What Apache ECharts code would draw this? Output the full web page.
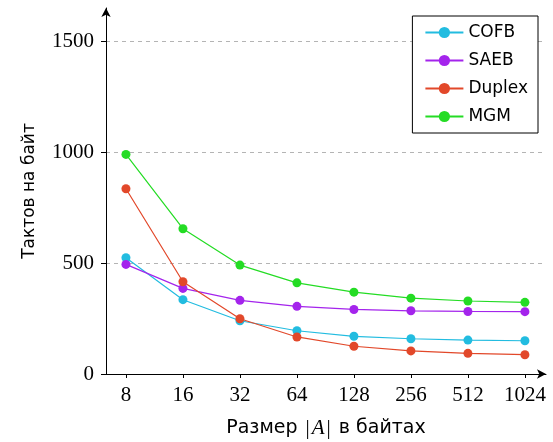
<!DOCTYPE html>
<html>
<head>
<meta charset="utf-8">
<script src="https://cdn.jsdelivr.net/npm/echarts@6/dist/echarts.min.js"></script>
<style>
  html, body { margin: 0; padding: 0; background: #fff; }
  #chart { width: 553px; height: 442px; }
</style>
</head>
<body>
<div id="chart"></div>
<script>
// Message sizes in bytes (plotted on a log2 scale)
const sizes = ['8', '16', '32', '64', '128', '256', '512', '1024'];

// Cycles per byte for each mode
const cofb   = [524, 335, 240, 195, 170, 159, 153, 150];
const saeb   = [494, 386, 332, 305, 291, 285, 282, 281];
const duplex = [835, 416, 249, 167, 125, 104, 93, 87];
const mgm    = [990, 655, 491, 411, 369, 342, 329, 323];

const yTicks = [0, 500, 1000, 1500];

const seriesDefs = [
  { name: 'COFB',   data: cofb,   color: '#22bce0' },
  { name: 'SAEB',   data: saeb,   color: '#a424ec' },
  { name: 'Duplex', data: duplex, color: '#e2482a' },
  { name: 'MGM',    data: mgm,    color: '#24dc24' }
];

const serif = '"Liberation Serif", "DejaVu Serif", serif';
const sans = '"DejaVu Sans", "Noto Sans", sans-serif';

const chart = echarts.init(document.getElementById('chart'));
chart.setOption({
  animation: false,
  backgroundColor: '#fff',
  grid: { left: 106, right: 7, top: 8, bottom: 68, outerBoundsMode: 'none' },
  legend: {
    orient: 'vertical',
    right: 15,
    top: 16,
    backgroundColor: '#fff',
    borderColor: '#000',
    borderWidth: 1,
    borderRadius: 0,
    padding: [8, 10, 8, 12],
    itemWidth: 38,
    itemHeight: 14,
    itemGap: 11,
    textStyle: { fontFamily: sans, fontSize: 17, color: '#000', width: 58, overflow: 'none' },
    data: seriesDefs.map(s => s.name)
  },
  xAxis: {
    type: 'value',
    min: -0.35,
    max: 7.37,
    name: '{s|Размер }{m||}{i|A}{m||}{s| в байтах}',
    nameLocation: 'middle',
    nameGap: 44,
    nameTextStyle: {
      rich: {
        s: { fontFamily: sans, fontSize: 19, color: '#000' },
        m: { fontFamily: serif, fontSize: 21, color: '#000', padding: [0, 2, 0, 2] },
        i: { fontFamily: serif, fontSize: 21, fontStyle: 'italic', color: '#000' }
      }
    },
    axisLine: {
      show: true,
      onZero: false,
      symbol: ['none', 'arrow'],
      symbolSize: [7, 9],
      lineStyle: { color: '#000', width: 1 }
    },
    axisTick: {
      show: true,
      length: 4,
      customValues: sizes.map((_, i) => i),
      lineStyle: { color: '#000' }
    },
    axisLabel: {
      customValues: sizes.map((_, i) => i),
      formatter: v => sizes[Math.round(v)],
      fontFamily: serif,
      fontSize: 21,
      color: '#000',
      margin: 11
    },
    splitLine: { show: false }
  },
  yAxis: {
    type: 'value',
    min: 0,
    max: 1650,
    name: 'Тактов на байт',
    nameLocation: 'middle',
    nameGap: 68,
    nameTextStyle: { fontFamily: sans, fontSize: 17, color: '#000' },
    axisLine: {
      show: true,
      onZero: false,
      symbol: ['none', 'arrow'],
      symbolSize: [7, 9],
      lineStyle: { color: '#000', width: 1 }
    },
    axisTick: {
      show: true,
      length: 5,
      customValues: yTicks,
      lineStyle: { color: '#000' }
    },
    axisLabel: {
      customValues: yTicks,
      formatter: v => String(v),
      fontFamily: serif,
      fontSize: 21,
      color: '#000',
      margin: 12
    },
    splitLine: {
      show: true,
      lineStyle: { color: '#b4b4b4', width: 1, type: [4, 4] }
    }
  },
  series: seriesDefs.map(s => ({
    name: s.name,
    type: 'line',
    data: s.data.map((v, i) => [i, v]),
    symbol: 'circle',
    symbolSize: 9,
    color: s.color,
    lineStyle: { width: 1.2, color: s.color },
    itemStyle: { color: s.color }
  }))
});
</script>
</body>
</html>
